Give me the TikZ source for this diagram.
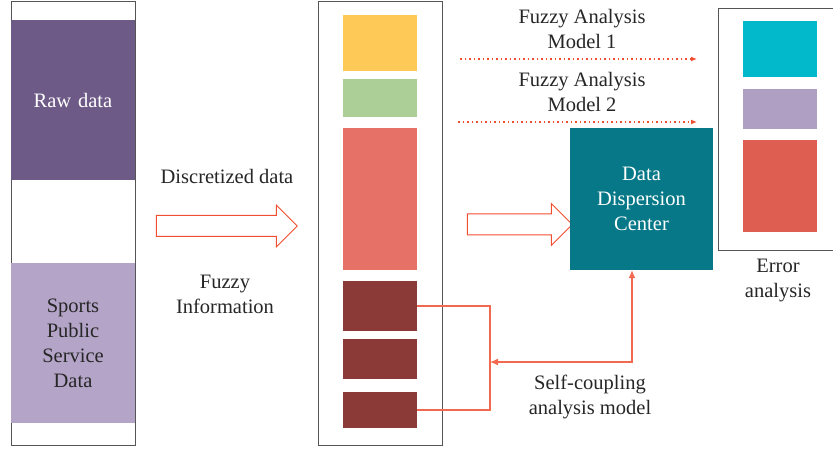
\documentclass[tikz,border=0pt]{standalone}
\usepackage{fontspec}
\setmainfont{Liberation Serif}
\usepackage{tikz}
\usetikzlibrary{shapes.arrows,arrows.meta}

\definecolor{rawc}{HTML}{6D5A86}
\definecolor{sportc}{HTML}{B4A5C8}
\definecolor{yelc}{HTML}{FEC957}
\definecolor{grnc}{HTML}{ACCF98}
\definecolor{salc}{HTML}{E67166}
\definecolor{darkc}{HTML}{8B3A38}
\definecolor{tealc}{HTML}{077887}
\definecolor{cyanc}{HTML}{02B8CB}
\definecolor{lavc}{HTML}{AF9FC3}
\definecolor{errc}{HTML}{DF5E52}
\definecolor{arrc}{HTML}{F04E30}
\definecolor{framec}{HTML}{555555}

\tikzset{
  frame/.style={draw=framec, line width=1pt},
  blk/.style={inner sep=0pt, text width=#1, align=center, text=white},
  blk/.default=100pt,
  lbl/.style={align=center, text=black!85},
  hollow/.style={single arrow, draw=arrc, fill=white, line width=1pt,
    inner xsep=0pt, inner ysep=10pt, text height=0pt, text depth=0pt,
    single arrow head extend=10.5pt, single arrow tip angle=90},
  dotarrow/.style={draw=arrc, line width=1.3pt, dash pattern=on 1.5pt off 3pt,
    -{Latex[length=6pt,width=5pt]}},
  conn/.style={draw=arrc!85!white, line width=1.2pt},
}

\begin{document}
\begin{tikzpicture}[x=1pt, y=-1pt, font=\fontsize{20.5}{25}\selectfont]
  \useasboundingbox (0,0) rectangle (833,449);

  % left column
  \draw[frame] (11,2) rectangle (135,445);
  \node[blk, fill=rawc, minimum width=124pt, minimum height=160pt] (raw) at (73,100) {Raw data};
  \node[blk, fill=sportc, text=black!85, minimum width=124pt, minimum height=160pt] (sport) at (73,343) {Sports\\Public\\Service\\Data};

  % middle column
  \draw[frame] (318,2) rectangle (442,445);
  \node[fill=yelc, minimum width=74pt, minimum height=56pt, inner sep=0pt] (y1) at (380,43) {};
  \node[fill=grnc, minimum width=74pt, minimum height=38pt, inner sep=0pt] (g1) at (380,98) {};
  \node[fill=salc, minimum width=74pt, minimum height=142pt, inner sep=0pt] (s1) at (380,199) {};
  \node[fill=darkc, minimum width=74pt, minimum height=49pt, inner sep=0pt] (d1) at (380,306) {};
  \node[fill=darkc, minimum width=74pt, minimum height=40pt, inner sep=0pt] (d2) at (380,359) {};
  \node[fill=darkc, minimum width=74pt, minimum height=36pt, inner sep=0pt] (d3) at (380,410) {};

  % hollow arrows
  \node[hollow, minimum height=141pt] (h1) at (221.5,226) {};
  \node[hollow, minimum height=105pt] (h2) at (514.5,224.5) {};
  \node[lbl] (disc) at (227,176) {Discretized data};
  \node[lbl] (fuzz) at (225,294) {Fuzzy\\Information};

  % dispersion center
  \node[blk=140pt, fill=tealc, minimum width=143pt, minimum height=142pt] (ddc) at (641.5,199) {Data\\Dispersion\\Center};

  % fuzzy analysis models
  \coordinate (m1a) at (460,59);
  \coordinate (m1b) at (697,59);
  \coordinate (m2a) at (458,122);
  \coordinate (m2b) at (697,122);
  \draw[dotarrow] (m1a) -- (m1b);
  \draw[dotarrow] (m2a) -- (m2b);
  \node[lbl] (fam1) at (582,29) {Fuzzy Analysis\\Model 1};
  \node[lbl] (fam2) at (582,92) {Fuzzy Analysis\\Model 2};

  % error analysis
  \draw[frame] (718,9) rectangle (840,251);
  \node[fill=cyanc, minimum width=74pt, minimum height=56pt, inner sep=0pt] (e1) at (780,49) {};
  \node[fill=lavc, minimum width=74pt, minimum height=40pt, inner sep=0pt] (e2) at (780,109) {};
  \node[fill=errc, minimum width=74pt, minimum height=92pt, inner sep=0pt] (e3) at (780,186) {};
  \node[lbl] (err) at (778,281) {Error\\analysis};

  % self-coupling
  \coordinate (bus) at (490,362);
  \draw[conn] (d1.east) -| (bus) |- (d3.east);
  \draw[conn, {Latex[length=8pt,width=7pt]}-{Latex[length=8pt,width=7pt]}] (bus) -| ([xshift=-9.5pt]ddc.south);
  \node[lbl] (self) at (590,397) {Self-coupling\\analysis model};
\end{tikzpicture}
\end{document}
